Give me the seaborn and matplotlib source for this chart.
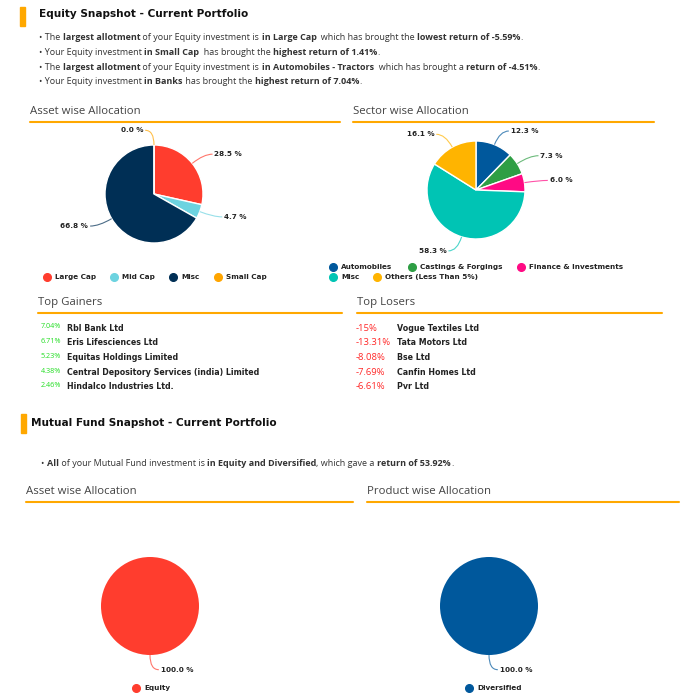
import numpy as np
import matplotlib
matplotlib.use('Agg')
import matplotlib.pyplot as plt
from matplotlib.path import Path
from matplotlib.patches import PathPatch, Rectangle
from matplotlib.lines import Line2D
from matplotlib.font_manager import FontProperties
import seaborn as sns

# ---- data ----
eq_asset_labels = ['Large Cap', 'Mid Cap', 'Misc', 'Small Cap']
eq_asset_values = [28.5, 4.7, 66.8, 0.0]
eq_asset_colors = ['#ff3d2e', '#6dd3e0', '#002f55', '#ffa500']

eq_sector_labels = ['Automobiles', 'Castings & Forgings', 'Finance & Investments',
                    'Misc', 'Others (Less Than 5%)']
eq_sector_values = [12.3, 7.3, 6.0, 58.3, 16.1]
eq_sector_colors = ['#00589c', '#2e9e44', '#ff0a84', '#00c4b4', '#ffb400']

mf_asset_labels = ['Equity']
mf_asset_values = [100.0]
mf_asset_colors = ['#ff3d2e']

mf_product_labels = ['Diversified']
mf_product_values = [100.0]
mf_product_colors = ['#00589c']

gainer_returns = ['7.04%', '6.71%', '5.23%', '4.38%', '2.46%']
gainer_names = ['Rbl Bank Ltd', 'Eris Lifesciences Ltd', 'Equitas Holdings Limited',
                'Central Depository Services (india) Limited', 'Hindalco Industries Ltd.']
loser_returns = ['-15%', '-13.31%', '-8.08%', '-7.69%', '-6.61%']
loser_names = ['Vogue Textiles Ltd', 'Tata Motors Ltd', 'Bse Ltd', 'Canfin Homes Ltd', 'Pvr Ltd']

# bullet text: (text, bold)
eq_bullets = [
    [('• The ', 0), ('largest allotment', 1), (' of your Equity investment is ', 0),
     ('in Large Cap', 1), ('  which has brought the ', 0), ('lowest return of -5.59%', 1), ('.', 0)],
    [('• Your Equity investment ', 0), ('in Small Cap', 1), ('  has brought the ', 0),
     ('highest return of 1.41%', 1), ('.', 0)],
    [('• The ', 0), ('largest allotment', 1), (' of your Equity investment is ', 0),
     ('in Automobiles - Tractors', 1), ('  which has brought a ', 0), ('return of -4.51%', 1), ('.', 0)],
    [('• Your Equity investment ', 0), ('in Banks', 1), (' has brought the ', 0),
     ('highest return of 7.04%', 1), ('.', 0)],
]
mf_bullets = [
    [('• ', 0), ('All', 1), (' of your Mutual Fund investment is ', 0),
     ('in Equity and Diversified', 1), (', which gave a ', 0), ('return of 53.92%', 1), ('.', 0)],
]

# ---- figure ----
sns.set_theme(style='white')
plt.rcParams['font.family'] = ['DejaVu Sans']

W, H = 685, 700
fig = plt.figure(figsize=(W / 100, H / 100), dpi=100)
fig.patch.set_facecolor('white')
renderer = fig.canvas.get_renderer()

ORANGE = '#ffa800'
TEXT = '#333333'


def fx(x):
    return x / W


def fy(y):
    return 1 - y / H


def put(x, y, s, **kw):
    kw.setdefault('va', 'center')
    return fig.text(fx(x), fy(y), s, **kw)


def text_width(s, prop):
    w1, _, _ = renderer.get_text_width_height_descent(s + '|', prop, ismath=False)
    w2, _, _ = renderer.get_text_width_height_descent('|', prop, ismath=False)
    return w1 - w2


def rich(x, y, parts, size=6.5):
    for s, bold in parts:
        prop = FontProperties(family='Open Sans', size=size,
                              weight='bold' if bold else 'normal')
        fig.text(fx(x), fy(y), s, fontproperties=prop, color=TEXT, va='baseline')
        x += text_width(s, prop)


def hline(x0, x1, y):
    fig.add_artist(Line2D([fx(x0), fx(x1)], [fy(y), fy(y)], color=ORANGE, lw=1.5,
                          transform=fig.transFigure))


def title_bar(x, y0, y1):
    fig.add_artist(Rectangle((fx(x), fy(y1)), 5 / W, (y1 - y0) / H, color=ORANGE,
                             transform=fig.transFigure))


def header(x, y, s):
    put(x, y, s, family='Open Sans', fontsize=8.2, color='#444444')


def legend_row(y, items):
    for x, lab, col in items:
        fig.add_artist(Line2D([fx(x)], [fy(y)], marker='o', ms=5.5, color=col, lw=0,
                              transform=fig.transFigure))
        put(x + 8, y, lab, fontsize=5.2, fontweight='bold', color='#222222')


def draw_pie(cx, cy, r, values, colors, edge=True):
    box = 220
    ax = fig.add_axes([(cx - box / 2) / W, 1 - (cy + box / 2) / H, box / W, box / H])
    ax.pie(values, colors=sns.color_palette(colors), startangle=90, counterclock=False,
           radius=1, wedgeprops=dict(edgecolor='white', linewidth=1.0 if edge else 0))
    lim = box / 2 / r
    ax.set_xlim(-lim, lim)
    ax.set_ylim(-lim, lim)
    ax.set_aspect('equal')
    ax.axis('off')
    total = sum(values)
    cum = 0
    for v, c in zip(values, colors):
        ang = np.deg2rad(90 - 360 * (cum + v / 2) / total)
        cum += v
        ca, sa = np.cos(ang), np.sin(ang)
        side = 1 if ca > 0 else -1
        p0 = (ca, sa)
        p1 = (ca * 1.3, sa * 1.3)
        p2 = (p1[0] + side * 0.18, p1[1])
        path = Path([p0, p1, p2], [Path.MOVETO, Path.CURVE3, Path.CURVE3])
        ax.add_patch(PathPatch(path, fill=False, edgecolor=c, lw=0.8, alpha=0.7,
                               clip_on=False))
        ax.text(p2[0] + side * 0.04, p2[1], f'{v:.1f} %',
                ha='left' if side > 0 else 'right', va='center', fontsize=5.2,
                fontweight='bold', color='#222222', clip_on=False)
    return ax


# ---- equity snapshot ----
title_bar(20, 7, 26)
put(39, 14, 'Equity Snapshot - Current Portfolio', fontsize=7.6, fontweight='bold',
    color='#111111')
for i, parts in enumerate(eq_bullets):
    rich(39, 40 + i * 14.8, parts)

header(30, 111, 'Asset wise Allocation')
hline(30, 340, 122)
header(353, 111, 'Sector wise Allocation')
hline(353, 654, 122)

draw_pie(154, 194, 49, eq_asset_values, eq_asset_colors)
draw_pie(476, 190, 49, eq_sector_values, eq_sector_colors)

legend_row(277, list(zip([47, 114, 173, 218], eq_asset_labels, eq_asset_colors)))
legend_row(267, list(zip([333, 412, 521], eq_sector_labels[:3], eq_sector_colors[:3])))
legend_row(277, list(zip([333, 377], eq_sector_labels[3:], eq_sector_colors[3:])))

# ---- gainers / losers ----
header(38, 303, 'Top Gainers')
hline(38, 342, 313)
header(357, 303, 'Top Losers')
hline(357, 662, 313)
for i in range(5):
    y = 328 + i * 14.7
    put(41, y - 1, gainer_returns[i], family='Open Sans', fontsize=5.2, color='#22dd22')
    put(67, y, gainer_names[i], fontsize=5.7, fontweight='bold', color='#222222')
    put(356, y, loser_returns[i], family='Open Sans', fontsize=6.8, color='#ff2a2a')
    put(397, y, loser_names[i], fontsize=5.7, fontweight='bold', color='#222222')

# ---- mutual fund snapshot ----
title_bar(21, 414, 433)
put(31, 423, 'Mutual Fund Snapshot - Current Portfolio', fontsize=7.6, fontweight='bold',
    color='#111111')
for parts in mf_bullets:
    rich(41, 466, parts)

header(26, 491, 'Asset wise Allocation')
hline(26, 353, 502)
header(367, 491, 'Product wise Allocation')
hline(367, 679, 502)

draw_pie(150, 606, 49, mf_asset_values, mf_asset_colors, edge=False)
draw_pie(489, 606, 49, mf_product_values, mf_product_colors, edge=False)

legend_row(688, [(136, mf_asset_labels[0], mf_asset_colors[0])])
legend_row(688, [(469, mf_product_labels[0], mf_product_colors[0])])

fig.savefig('out.png', dpi=100, facecolor='white')
